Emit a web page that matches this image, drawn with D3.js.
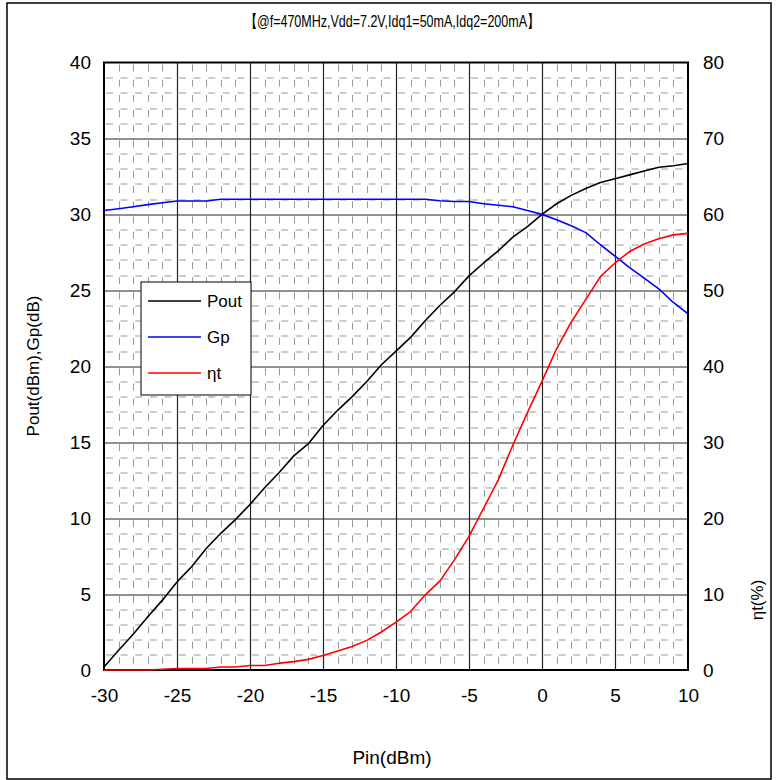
<!DOCTYPE html>
<html>
<head>
<meta charset="utf-8">
<script src="https://cdn.jsdelivr.net/npm/d3@7"></script>
<style>
  body { margin: 0; background: #fff; }
  text { font-family: "Liberation Sans", Arial, sans-serif; fill: #000; }
</style>
</head>
<body>
<svg id="chart" width="776" height="780"></svg>
<script>
// Pin (dBm)
var pin = [-30, -29, -28, -27, -26, -25, -24, -23, -22, -21,
           -20, -19, -18, -17, -16, -15, -14, -13, -12, -11,
           -10, -9, -8, -7, -6, -5, -4, -3, -2, -1,
           0, 1, 2, 3, 4, 5, 6, 7, 8, 9, 10];
// Pout (dBm)
var pout = [0.2, 1.3, 2.35, 3.5, 4.6, 5.8, 6.8, 8.0, 9.0, 9.9,
            10.9, 12.0, 13.0, 14.1, 14.9, 16.1, 17.1, 18.0, 19.0, 20.1,
            21.0, 21.9, 23.0, 24.0, 24.9, 25.95, 26.8, 27.6, 28.5, 29.2,
            30.0, 30.7, 31.25, 31.7, 32.1, 32.35, 32.6, 32.85, 33.1, 33.2, 33.35];
// Gp (dB)
var gp = [30.26, 30.37, 30.5, 30.64, 30.77, 30.88, 30.88, 30.88, 31.0, 31.0,
          31.0, 31.0, 31.0, 31.0, 31.0, 31.0, 31.0, 31.0, 31.0, 31.0,
          31.0, 31.0, 31.0, 30.9, 30.85, 30.85, 30.7, 30.6, 30.5, 30.25,
          30.0, 29.65, 29.25, 28.8, 28.0, 27.25, 26.5, 25.8, 25.1, 24.2, 23.45];
// eta t (%)
var eta = [0, 0, 0, 0, 0.1, 0.2, 0.2, 0.2, 0.4, 0.4,
           0.6, 0.6, 0.9, 1.1, 1.4, 1.9, 2.5, 3.1, 3.9, 5.0,
           6.3, 7.7, 9.9, 11.7, 14.5, 17.6, 21.3, 25.0, 29.6, 33.9,
           38.0, 42.3, 45.8, 48.8, 51.8, 53.6, 55.1, 56.1, 56.8, 57.3, 57.5];

var xTicks = [-30, -25, -20, -15, -10, -5, 0, 5, 10];
var yTicks = [0, 5, 10, 15, 20, 25, 30, 35, 40];
var y2Ticks = [0, 10, 20, 30, 40, 50, 60, 70, 80];

var seriesNames = ["Pout", "Gp", "\u03b7t"];
var seriesColors = ["#000000", "#0000ff", "#ff0000"];

var svg = d3.select("#chart"),
    margin = { top: 62.5, right: 88, bottom: 110, left: 104 },
    width = 776 - margin.left - margin.right,
    height = 780 - margin.top - margin.bottom;

var x = d3.scaleLinear().domain([-30, 10]).range([0, width]),
    y = d3.scaleLinear().domain([0, 40]).range([height, 0]),
    y2 = d3.scaleLinear().domain([0, 80]).range([height, 0]);

// outer frame
svg.append("rect")
    .attr("x", 7).attr("y", 3)
    .attr("width", 764).attr("height", 776)
    .attr("fill", "none")
    .attr("stroke", "#000")
    .attr("stroke-width", 1.5);

var g = svg.append("g")
    .attr("transform", "translate(" + margin.left + "," + margin.top + ")");

// minor grid (dashed)
var xStep = x(1) - x(0), yStep = y(0) - y(1);
var minorX = d3.range(-29, 10).filter(function(d) { return d % 5 !== 0; });
var minorY = d3.range(1, 40).filter(function(d) { return d % 5 !== 0; });

g.append("g").selectAll("line")
    .data(minorY)
    .enter().append("line")
    .attr("x1", 0).attr("x2", width)
    .attr("y1", function(d) { return Math.round(y(d)) + 0.5; })
    .attr("y2", function(d) { return Math.round(y(d)) + 0.5; })
    .attr("stroke", "#999")
    .attr("stroke-width", 1)
    .attr("stroke-dasharray", "7," + (xStep - 7))
    .attr("stroke-dashoffset", -2);

g.append("g").selectAll("line")
    .data(minorX)
    .enter().append("line")
    .attr("x1", function(d) { return Math.round(x(d)) + 0.5; })
    .attr("x2", function(d) { return Math.round(x(d)) + 0.5; })
    .attr("y1", 0).attr("y2", height)
    .attr("stroke", "#999")
    .attr("stroke-width", 1)
    .attr("stroke-dasharray", "7," + (yStep - 7))
    .attr("stroke-dashoffset", -2);

// major grid
g.append("g").selectAll("line")
    .data(yTicks.slice(1, -1))
    .enter().append("line")
    .attr("x1", 0).attr("x2", width)
    .attr("y1", function(d) { return Math.round(y(d)) + 0.5; })
    .attr("y2", function(d) { return Math.round(y(d)) + 0.5; })
    .attr("stroke", "#222").attr("stroke-width", 1.2);

g.append("g").selectAll("line")
    .data(xTicks.slice(1, -1))
    .enter().append("line")
    .attr("x1", function(d) { return Math.round(x(d)) + 0.5; })
    .attr("x2", function(d) { return Math.round(x(d)) + 0.5; })
    .attr("y1", 0).attr("y2", height)
    .attr("stroke", "#222").attr("stroke-width", 1.2);

// plot border
g.append("rect")
    .attr("x", 0).attr("y", 0)
    .attr("width", width).attr("height", height)
    .attr("fill", "none")
    .attr("stroke", "#000")
    .attr("stroke-width", 2);

// series
var data = pin.map(function(p, i) { return { pin: p, pout: pout[i], gp: gp[i], eta: eta[i] }; });

var linePout = d3.line().x(function(d) { return x(d.pin); }).y(function(d) { return y(d.pout); });
var lineGp = d3.line().x(function(d) { return x(d.pin); }).y(function(d) { return y(d.gp); });
var lineEta = d3.line().x(function(d) { return x(d.pin); }).y(function(d) { return y2(d.eta); });

[linePout, lineGp, lineEta].forEach(function(ln, i) {
    g.append("path")
        .datum(data)
        .attr("fill", "none")
        .attr("stroke", seriesColors[i])
        .attr("stroke-width", 1.6)
        .attr("stroke-linejoin", "round")
        .attr("d", ln);
});

// axes labels
var plain = function(d) { return String(d); };
var xAxis = d3.axisBottom(x).tickValues(xTicks).tickFormat(plain).tickSize(0).tickPadding(19),
    yAxis = d3.axisLeft(y).tickValues(yTicks).tickFormat(plain).tickSize(0).tickPadding(13),
    yAxis2 = d3.axisRight(y2).tickValues(y2Ticks).tickFormat(plain).tickSize(0).tickPadding(15);

g.append("g").attr("class", "axis axis--x")
    .attr("transform", "translate(0," + height + ")")
    .call(xAxis);
g.append("g").attr("class", "axis axis--y").call(yAxis);
g.append("g").attr("class", "axis axis--y2")
    .attr("transform", "translate(" + width + ",0)")
    .call(yAxis2);

g.selectAll(".axis .domain").remove();
g.selectAll(".axis text")
    .attr("font-family", "Liberation Sans, Arial, sans-serif")
    .attr("font-size", 19)
    .attr("fill", "#000");

// titles
svg.append("text")
    .attr("x", 392).attr("y", 27)
    .attr("text-anchor", "middle")
    .attr("font-size", 17)
    .attr("textLength", 295)
    .attr("lengthAdjust", "spacingAndGlyphs")
    .text("\u3010@f=470MHz,Vdd=7.2V,Idq1=50mA,Idq2=200mA\u3011");

svg.append("text")
    .attr("x", 392).attr("y", 764)
    .attr("text-anchor", "middle")
    .attr("font-size", 19)
    .text("Pin(dBm)");

svg.append("text")
    .attr("transform", "translate(39,366) rotate(-90)")
    .attr("text-anchor", "middle")
    .attr("font-size", 17)
    .text("Pout(dBm),Gp(dB)");

svg.append("text")
    .attr("transform", "translate(763,600) rotate(-90)")
    .attr("text-anchor", "middle")
    .attr("font-size", 17)
    .text("\u03b7t(%)");

// legend
var legend = svg.append("g").attr("transform", "translate(141,282)");
legend.append("rect")
    .attr("width", 110).attr("height", 113)
    .attr("fill", "#fff")
    .attr("stroke", "#000")
    .attr("stroke-width", 1);

var entry = legend.selectAll(".entry")
    .data(seriesNames)
    .enter().append("g")
    .attr("transform", function(d, i) { return "translate(0," + (19 + i * 36) + ")"; });
entry.append("line")
    .attr("x1", 7).attr("x2", 60)
    .attr("stroke", function(d, i) { return seriesColors[i]; })
    .attr("stroke-width", 1.6);
entry.append("text")
    .attr("x", 66).attr("y", 6)
    .attr("font-size", 17)
    .text(function(d) { return d; });
</script>
</body>
</html>
